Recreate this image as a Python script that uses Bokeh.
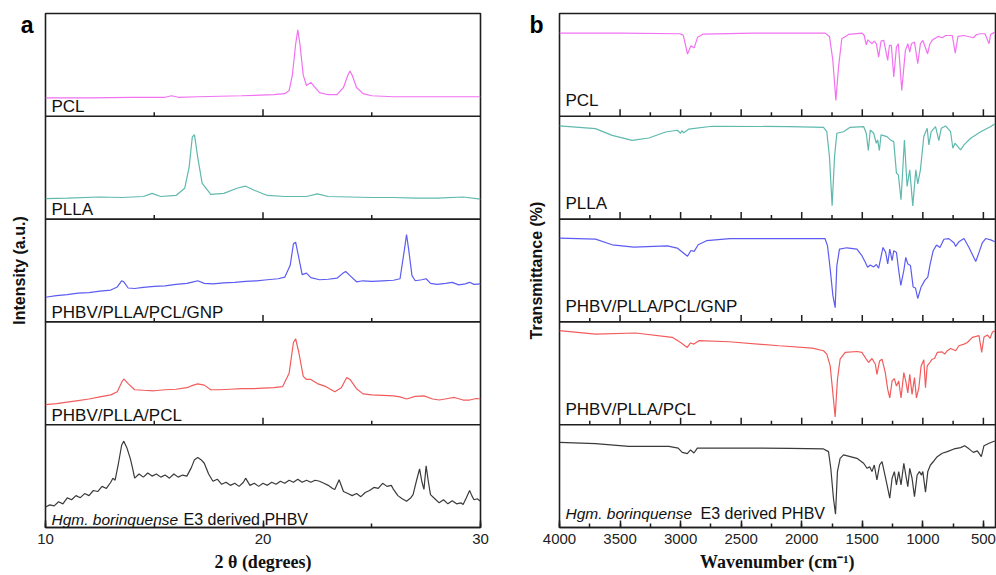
from bokeh.plotting import figure
from bokeh.layouts import row
from bokeh.models import Range1d, SingleIntervalTicker, FixedTicker, Span, Label, CustomJSTickFormatter
from bokeh.embed import file_html
from bokeh.resources import INLINE

# ---------------- DATA ----------------
sample_names = ["Hgm. borinquense|E3 derived PHBV", "PHBV/PLLA/PCL", "PHBV/PLLA/PCL/GNP", "PLLA", "PCL"]
sample_colors = ["#3a3a3a", "#f25c5c", "#5c5cf2", "#5fb9ae", "#f272f2"]

# XRD (2 theta in degrees, relative intensity in % of panel band)
xrd_pcl_x = [10, 12, 14, 15.5, 15.8, 16.1, 17, 19, 20.5, 21.0, 21.2, 21.35, 21.5, 21.6, 21.7, 21.85, 22.0, 22.2, 22.4,
             22.6, 23.0, 23.4, 23.7, 23.9, 24.0, 24.1, 24.3, 24.6, 25, 26, 28, 30]
xrd_pcl_y = [18, 18, 18.5, 18.5, 20, 18.5, 19, 20, 21, 22, 25, 40, 70, 84, 70, 40, 30, 33, 28,
             23, 21, 21, 28, 40, 44, 40, 28, 22, 20, 19, 19, 19]

xrd_plla_x = [10, 11, 12.5, 13.5, 14.5, 14.9, 15.3, 16.0, 16.4, 16.6, 16.75, 16.85, 17.0, 17.2, 17.6, 18.2, 18.8, 19.2,
              19.6, 20.2, 21, 22, 22.5, 23, 24, 25, 26, 27, 28, 29.2, 30]
xrd_plla_y = [20, 20.5, 21.5, 21, 22, 25, 22, 23, 30, 50, 80, 82, 60, 35, 24, 25, 30, 32,
              28, 23, 22, 22, 24.5, 22, 21.5, 21, 21, 20.5, 20.5, 21.5, 19.5]

xrd_gnp_x = [10.0, 10.5, 11.0, 11.5, 12.0, 12.5, 13.0, 13.3, 13.5, 13.6, 13.8, 14.1, 14.5, 15.0, 15.5, 16.0, 16.5, 16.8,
             17.0, 17.3, 17.7, 18.2, 18.7, 19.2, 19.7, 20.2, 20.7, 21.0, 21.25, 21.4, 21.5, 21.65, 21.8, 22.0, 22.2,
             22.6, 23.0, 23.4, 23.65, 23.8, 24.0, 24.3, 24.6, 25.0, 25.5, 26.0, 26.3, 26.5, 26.6, 26.7, 26.85, 27.0,
             27.3, 27.5, 27.7, 28.0, 28.4, 28.7, 29.0, 29.3, 29.5, 29.7, 30.0]
xrd_gnp_y = [24, 25.5, 26.5, 28, 28.5, 30, 31, 34, 40, 39, 33, 32.5, 33.5, 34.5, 35, 36.5, 37.5, 39,
             40, 37.5, 37, 38, 38.5, 39.5, 40, 41, 42, 43.5, 55, 76, 77.5, 62, 46, 47.5, 43,
             41, 41.5, 42.5, 47, 49, 45, 39, 40, 39.5, 40, 40.5, 42, 70, 85, 70, 45, 40,
             41, 42, 37.5, 36.5, 37.5, 38.5, 36, 37, 38.5, 36.5, 37]

xrd_blend_x = [10.0, 10.5, 11.0, 11.5, 12.0, 12.5, 13.0, 13.3, 13.5, 13.6, 13.8, 14.1, 14.5, 15.0, 15.5, 16.0, 16.5,
               16.8, 17.0, 17.3, 17.6, 18.0, 18.5, 19.0, 19.5, 20.0, 20.5, 20.9, 21.2, 21.4, 21.5, 21.65, 21.85, 22.0,
               22.2, 22.5, 22.9, 23.3, 23.6, 23.85, 24.0, 24.3, 24.6, 25.0, 25.5, 26.0, 26.3, 26.6, 27.0, 27.4, 27.8,
               28.1, 28.5, 28.8, 29.2, 29.5, 29.8, 30.0]
xrd_blend_y = [19.5, 20.5, 22, 23.5, 25, 27, 29, 32, 41, 44.5, 40, 34, 33.5, 33, 34, 34.5, 36,
               38.5, 39.7, 38.5, 34, 34, 34.5, 35, 35, 35.5, 36, 37, 50, 80, 83.6, 70, 47, 44,
               44, 40, 37, 32, 36, 46, 44, 35, 30, 29, 28.5, 28, 27, 25, 27.5, 28, 25,
               24, 25.5, 26.5, 24, 24, 25.5, 25]

xrd_phbv_x = [10.0, 10.2, 10.4, 10.6, 10.8, 11.0, 11.2, 11.4, 11.6, 11.8, 12.0, 12.2, 12.4, 12.6, 12.8, 13.0, 13.1, 13.2,
              13.35, 13.5, 13.6, 13.75, 13.9, 14.0, 14.1, 14.3, 14.5, 14.7, 14.9, 15.1, 15.3, 15.5, 15.7, 15.9, 16.1,
              16.3, 16.5, 16.7, 16.85, 17.0, 17.15, 17.3, 17.5, 17.7, 17.9, 18.1, 18.3, 18.5, 18.7, 18.9, 19.1, 19.2,
              19.4, 19.6, 19.8, 20.0, 20.2, 20.4, 20.6, 20.8, 21.0, 21.2, 21.4, 21.6, 21.8, 22.0, 22.2, 22.4, 22.6,
              22.8, 23.0, 23.2, 23.3, 23.5, 23.7, 23.9, 24.1, 24.3, 24.5, 24.7, 24.9, 25.1, 25.3, 25.5, 25.7, 25.9,
              26.0, 26.2, 26.4, 26.6, 26.8, 26.9, 27.05, 27.2, 27.3, 27.4, 27.5, 27.6, 27.7, 27.9, 28.1, 28.3, 28.5,
              28.7, 28.9, 29.1, 29.2, 29.35, 29.5, 29.6, 29.7, 29.85, 30.0]
xrd_phbv_y = [20, 22, 21, 25, 23, 28.8, 27, 31, 29, 33, 31, 36, 35, 40, 38, 44, 48, 46,
              62, 80, 84, 77, 67, 58, 48, 52, 49, 53, 50, 52, 49, 51, 48, 52, 49,
              51, 50, 58, 66, 68, 66, 62.5, 52, 45, 47, 42, 44, 41, 43, 40, 44, 48,
              41, 43, 40, 43, 41, 44, 42, 45, 43, 46, 44, 47, 44, 46, 44, 46, 45,
              43, 41, 38, 37, 46.5, 35, 33, 31, 33, 30, 34, 36, 39, 38, 43, 40, 41,
              37, 31, 28, 25.6, 29, 32, 45, 57, 45, 37, 60, 45, 32, 28, 24, 27, 23,
              26, 23, 24, 22.4, 29, 36, 31, 27, 28, 25.6]

# FTIR (wavenumber in cm-1, transmittance in % of panel band)
ir_pcl_x = [4000, 3500, 3006, 2978, 2943, 2915, 2888, 2860, 2813, 2400, 2097, 1807, 1771, 1743, 1718, 1696, 1669, 1613,
            1503, 1484, 1467, 1453, 1434, 1420, 1401, 1384, 1365, 1345, 1323, 1290, 1276, 1260, 1240, 1218, 1202, 1174,
            1144, 1124, 1108, 1094, 1069, 1042, 1020, 1000, 961, 941, 920, 873, 840, 812, 757, 732, 710, 660, 583, 556,
            522, 487, 453, 440, 406]
ir_pcl_y = [81, 81, 80.3, 79, 60.6, 68.7, 66.5, 76.8, 80, 81, 81, 80.9, 77.7, 54.4, 15.5, 47.9, 75.4, 79.6,
            80.9, 78.6, 69.6, 74.4, 72.2, 70.6, 73.1, 70.6, 57.6, 73.1, 73.8, 54.4, 68.9, 68.9, 38.2, 67.3, 70.6, 25.2,
            64.1, 70.6, 62.5, 70.6, 72.2, 51.1, 70.6, 73.8, 60.8, 70.6, 74.4, 77.7, 76.4, 78.6, 78.6, 61.5, 77.7, 78.6,
            76.4, 79.6, 80.3, 80.3, 70.6, 79.6, 81.9]

ir_plla_x = [4000, 3703, 3565, 3400, 3262, 3124, 3028, 3000, 2990, 2975, 2934, 2741, 2097, 1820, 1793, 1771, 1749, 1729,
             1710, 1655, 1600, 1489, 1467, 1450, 1434, 1406, 1384, 1373, 1359, 1345, 1296, 1268, 1240, 1218, 1202, 1180,
             1152, 1130, 1108, 1083, 1058, 1042, 1020, 992, 964, 950, 931, 895, 868, 848, 812, 771, 752, 735, 716, 688,
             660, 605, 522, 439, 406]
ir_plla_y = [90.6, 88, 81.5, 76.6, 78.9, 84.7, 86.4, 83.5, 86, 84, 87.5, 90.3, 90, 89.3, 85, 60.8, 12.9, 60.8,
             83.5, 85, 89.3, 90, 83.5, 66.7, 86.7, 83.5, 73.8, 77, 66.7, 81.9, 80.3, 77, 75.4, 44.7, 43, 18.8,
             77, 31.7, 47.9, 12.9, 47.9, 34.3, 47.9, 80.3, 88.3, 72.2, 85, 90, 76.4, 88.3, 90.6, 85, 68.9, 73.8, 71.2,
             67.3, 72.2, 78.6, 85, 90, 92.5]

ir_gnp_x = [4000, 3703, 3565, 3386, 3110, 3028, 2943, 2915, 2888, 2855, 2786, 2593, 1808, 1787, 1765, 1743, 1724, 1710,
            1688, 1627, 1544, 1503, 1475, 1456, 1434, 1406, 1384, 1365, 1329, 1307, 1290, 1273, 1254, 1240, 1218, 1199,
            1182, 1157, 1141, 1124, 1102, 1080, 1061, 1042, 1014, 984, 959, 942, 915, 887, 859, 826, 785, 743, 729, 702,
            660, 619, 563, 536, 508, 481, 439, 406]
ir_gnp_y = [81.4, 80.5, 75, 72.8, 74, 71.8, 63.8, 69.5, 68.6, 75, 79, 81, 81.1, 74, 51.6, 26, 13.8, 54.8,
            70.8, 72.1, 70.8, 64.4, 58, 53.2, 55.4, 53.5, 55.8, 52.2, 72.4, 67.6, 56.4, 70.8, 59.6, 69.2, 67.6, 50,
            35.6, 50, 62.8, 56.4, 54.8, 34, 33, 22.8, 34, 40.4, 43.6, 54.8, 69.2, 74.7, 72.4, 80.4, 81, 77, 73.4, 77.9,
            81.1, 72.4, 58.7, 67.6, 77.2, 81.1, 79.8, 77.9]

ir_blend_x = [4000, 3703, 3372, 3069, 3000, 2945, 2918, 2890, 2849, 2600, 2187, 1912, 1820, 1793, 1765, 1743, 1724, 1705,
              1683, 1641, 1544, 1503, 1467, 1448, 1420, 1392, 1379, 1357, 1337, 1310, 1290, 1273, 1254, 1235, 1218, 1199,
              1180, 1157, 1141, 1124, 1108, 1089, 1069, 1053, 1033, 1014, 992, 978, 964, 942, 923, 903, 881, 840, 820,
              798, 771, 729, 702, 660, 632, 591, 536, 514, 495, 467, 445, 426, 406]
ir_blend_y = [91.5, 88.2, 89.2, 85, 80, 75.2, 79.5, 78.4, 81.7, 80.7, 76.8, 74.5, 71.9, 68.6, 57.2, 31, 7.5, 44,
              63.7, 70.3, 71.2, 70.3, 63.7, 60.5, 64.4, 58.8, 49, 62, 63.7, 50.7, 34.3, 26.1, 42.5, 44.8, 37.6, 42.5,
              26.1, 50.7, 42.5, 31, 49, 29.4, 45.8, 26.1, 35.9, 57.2, 63.1, 35.9, 57.2, 60.5, 63.7, 64.4, 70.3, 70.9,
              68.6, 72, 74.2, 71.9, 76.8, 78.4, 80, 85, 86.6, 70.3, 85.3, 87.3, 84, 89.9, 91.5]

ir_phbv_x = [4000, 3703, 3428, 3097, 3020, 2987, 2945, 2918, 2890, 2862, 2600, 2097, 1820, 1779, 1760, 1738, 1721, 1705,
             1683, 1655, 1544, 1489, 1461, 1439, 1420, 1401, 1379, 1357, 1337, 1310, 1290, 1273, 1254, 1235, 1218, 1199,
             1180, 1157, 1141, 1124, 1108, 1089, 1069, 1047, 1028, 1011, 1000, 978, 959, 937, 909, 881, 840, 798, 743,
             688, 655, 619, 583, 550, 517, 495, 453, 406]
ir_phbv_y = [82.8, 81.6, 79, 79, 77.3, 73.1, 71.8, 75.5, 72.5, 77.3, 77.3, 77, 76.4, 73.8, 57.6, 28.5, 12.9, 54.4,
             67.3, 70.6, 67.3, 62.5, 57.6, 59, 54.4, 60.8, 46.3, 60.8, 64.1, 49.5, 38.2, 28.5, 47.9, 54.4, 41.4, 54.4,
             41.4, 62.5, 51.1, 39.8, 57.6, 47.9, 30.1, 51.1, 54.4, 51, 54.4, 34.3, 54.4, 60.8, 64.7, 68.9, 72.2, 73.8,
             76.4, 77.7, 79.6, 76.5, 73.1, 74.5, 68.9, 79.6, 81.9, 84.1]

xrd_series = [(xrd_phbv_x, xrd_phbv_y), (xrd_blend_x, xrd_blend_y), (xrd_gnp_x, xrd_gnp_y),
              (xrd_plla_x, xrd_plla_y), (xrd_pcl_x, xrd_pcl_y)]
ir_series = [(ir_phbv_x, ir_phbv_y), (ir_blend_x, ir_blend_y), (ir_gnp_x, ir_gnp_y),
             (ir_plla_x, ir_plla_y), (ir_pcl_x, ir_pcl_y)]

xrd_range = (10, 30)
xrd_major, xrd_minor = 10, 5
ir_range = (4000, 400)
ir_major, ir_minor = 500, 250

SANS = "Liberation Sans"
SERIF = "Liberation Serif"
EDGE = "#1e1e1e"
MAJ_LEN, MIN_LEN = 7, 4


def make_panel(series, xr, major, minor, xlabel, ylabel, letter, width, height,
               bl, br, bt, bb, lab_dy, part2_dx, letter_standoff, ylabel_standoff):
    p = figure(width=width, height=height, output_backend="svg", toolbar_location=None,
               x_range=Range1d(*xr), y_range=Range1d(0, 5),
               min_border_left=bl, min_border_right=br, min_border_top=bt, min_border_bottom=bb)
    p.background_fill_color = "white"
    p.border_fill_color = "white"
    p.outline_line_color = EDGE
    p.outline_line_width = 1.6
    p.xgrid.visible = False
    p.ygrid.visible = False

    xa = p.xaxis[0]
    xa.ticker = SingleIntervalTicker(interval=major, num_minor_ticks=major // minor)
    xa.major_tick_in = MAJ_LEN
    xa.major_tick_out = 0
    xa.minor_tick_in = MIN_LEN
    xa.minor_tick_out = 0
    xa.major_tick_line_color = EDGE
    xa.minor_tick_line_color = EDGE
    xa.major_tick_line_width = 1.5
    xa.minor_tick_line_width = 1.5
    xa.axis_line_color = EDGE
    xa.axis_line_width = 1.6
    xa.major_label_text_font = SANS
    xa.major_label_text_font_size = "15px"
    xa.major_label_text_color = "#222222"
    xa.major_label_standoff = 6
    xa.axis_label = xlabel
    xa.axis_label_text_font = SERIF
    xa.axis_label_text_font_style = "bold"
    xa.axis_label_text_font_size = "18px"
    xa.axis_label_text_color = "#111111"
    xa.axis_label_standoff = 5

    band_px = (height - bt - bb) / 5.0

    # left axis: carries only the panel letter (as a single tick label near the top) and the axis title
    ya = p.yaxis[0]
    ya.ticker = FixedTicker(ticks=[5 - 12 / band_px])
    ya.formatter = CustomJSTickFormatter(code="return '%s';" % letter)
    ya.major_tick_out = 0
    ya.major_tick_in = 0
    ya.major_tick_line_color = None
    ya.minor_tick_out = 0
    ya.minor_tick_line_color = None
    ya.axis_line_color = None
    ya.major_label_text_font = SANS
    ya.major_label_text_font_size = "23px"
    ya.major_label_text_font_style = "bold"
    ya.major_label_text_color = "#000000"
    ya.major_label_standoff = letter_standoff
    ya.axis_label = ylabel
    ya.axis_label_text_font = SANS
    ya.axis_label_text_font_style = "bold"
    ya.axis_label_text_font_size = "16px"
    ya.axis_label_text_color = "#111111"
    ya.axis_label_standoff = ylabel_standoff

    lo, hi = min(xr), max(xr)
    inner_major = [t for t in range(int(lo), int(hi) + 1) if t % major == 0 and lo < t < hi]
    inner_minor = [t for t in range(int(lo), int(hi) + 1) if t % minor == 0 and t % major != 0 and lo < t < hi]

    for k, ((xs, ys), color, name) in enumerate(zip(series, sample_colors, sample_names)):
        p.line(xs, [k + v / 100.0 for v in ys], line_color=color, line_width=1.2)
        if k > 0:
            p.add_layout(Span(location=k, dimension="width", line_color=EDGE, line_width=1.6))
            p.segment(x0=inner_major, y0=[k] * len(inner_major), x1=inner_major,
                      y1=[k + MAJ_LEN / band_px] * len(inner_major), line_color=EDGE, line_width=1.5)
            p.segment(x0=inner_minor, y0=[k] * len(inner_minor), x1=inner_minor,
                      y1=[k + MIN_LEN / band_px] * len(inner_minor), line_color=EDGE, line_width=1.5)
        if "|" in name:
            first, second = name.split("|")
            p.add_layout(Label(x=xr[0], y=k, x_offset=6, y_offset=lab_dy, text=first,
                               text_font=SANS, text_font_size="15.5px", text_font_style="italic",
                               text_color="#111111", text_baseline="bottom", text_align="left"))
            p.add_layout(Label(x=xr[0], y=k, x_offset=part2_dx, y_offset=lab_dy, text=second,
                               text_font=SANS, text_font_size="16px",
                               text_color="#111111", text_baseline="bottom", text_align="left"))
        else:
            p.add_layout(Label(x=xr[0], y=k, x_offset=6, y_offset=lab_dy, text=name,
                               text_font=SANS, text_font_size="17px",
                               text_color="#111111", text_baseline="bottom", text_align="left"))
    return p


pa = make_panel(xrd_series, xrd_range, xrd_major, xrd_minor, "2 θ (degrees)", "Intensity (a.u.)", "a",
                500, 574, 45, 20, 10, 47, 0, 138, 12, -10)
pb = make_panel(ir_series, ir_range, ir_major, ir_minor, "Wavenumber (cm⁻¹)", "Transmittance (%)", "b",
                496, 574, 59, 1, 13, 46, 6, 141, 16, -19)

layout = row(pa, pb)
open("out.html", "w").write(file_html(layout, INLINE))
